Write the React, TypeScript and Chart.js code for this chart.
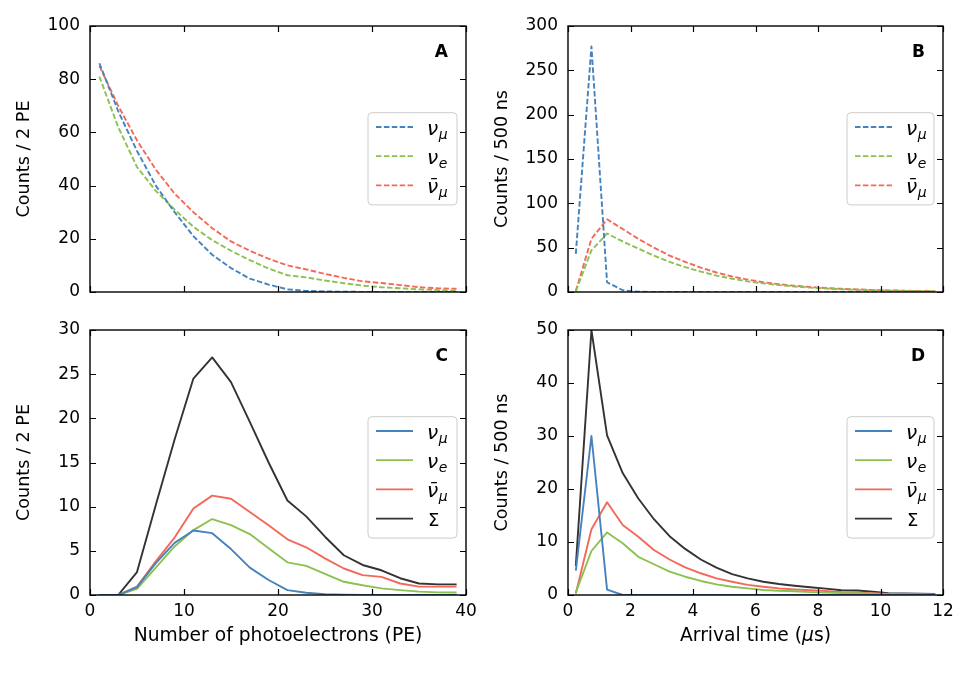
import { useEffect, useRef } from 'react';
import { Chart, registerables } from 'chart.js';

Chart.register(...registerables);

// ---- figure geometry & fonts ----
const W = 975;
const H = 675;
const FONT = '"DejaVu Sans", sans-serif';
const FS = 17;
const FS_YTITLE = 17.6;
const FS_XTITLE = 18.7;
const FS_NU = 20;
const FS_SUB = 14;
const Y_AXIS_W = 60;
const X_AXIS_H = 30;

// ---- bin centres ----
const peBins = [1, 3, 5, 7, 9, 11, 13, 15, 17, 19, 21, 23, 25, 27, 29, 31, 33, 35, 37, 39];
const timeBins = [
  0.25, 0.75, 1.25, 1.75, 2.25, 2.75, 3.25, 3.75, 4.25, 4.75, 5.25, 5.75,
  6.25, 6.75, 7.25, 7.75, 8.25, 8.75, 9.25, 9.75, 10.25, 10.75, 11.25, 11.75,
];

// ---- A: photoelectron spectra, all events ----
const allPeNuMu = [86, 68, 53, 40, 30, 21, 14, 9, 5, 2.8, 1.0, 0.4, 0.2, 0.1, 0.05, 0, 0, 0, 0, 0];
const allPeNuE = [81, 62, 47, 38, 31, 24.5, 19.5, 15.5, 12, 8.8, 6.3, 5.5, 4.3, 3.3, 2.4, 1.8, 1.4, 1.0, 0.7, 0.5];
const allPeNuMuBar = [85, 70, 57, 46, 37, 30, 24, 19, 15.5, 12.5, 10, 8.5, 6.8, 5.3, 4, 3.4, 2.6, 1.8, 1.4, 1.2];

// ---- B: arrival times, all events ----
const allTNuMu = [43, 277, 11, 2, 0.3, 0, 0, 0, 0, 0, 0, 0, 0, 0, 0, 0, 0, 0, 0, 0, 0, 0, 0, 0];
const allTNuE = [1, 47, 66, 57, 49, 41, 34, 28, 23, 18.5, 15, 12, 9.8, 7.8, 6.2, 4.9, 3.9, 3.1, 2.5, 2.0, 1.6, 1.3, 1.0, 0.8];
const allTNuMuBar = [1, 60, 82, 71, 60, 50, 41, 34, 27.5, 22, 17.5, 14, 11, 8.8, 7, 5.6, 4.5, 3.6, 2.9, 2.3, 1.8, 1.5, 1.2, 1.0];

// ---- C: photoelectron spectra, selected events ----
const cutPeNuMu = [0, 0, 0.9, 3.6, 5.9, 7.3, 7.0, 5.2, 3.1, 1.7, 0.55, 0.25, 0.1, 0.03, 0, 0, 0, 0, 0, 0];
const cutPeNuE = [0, 0, 0.7, 3.1, 5.5, 7.35, 8.6, 7.9, 6.9, 5.3, 3.7, 3.3, 2.4, 1.5, 1.1, 0.75, 0.55, 0.38, 0.3, 0.28];
const cutPeNuMuBar = [0, 0, 0.95, 3.8, 6.5, 9.8, 11.25, 10.9, 9.4, 7.9, 6.3, 5.4, 4.15, 3.0, 2.25, 2.05, 1.3, 0.95, 0.95, 0.95];
const cutPeSum = [0, 0, 2.6, 10.2, 17.6, 24.5, 26.9, 24.1, 19.6, 15.0, 10.7, 8.9, 6.6, 4.5, 3.4, 2.8, 1.9, 1.3, 1.2, 1.2];

// ---- D: arrival times, selected events ----
const cutTNuMu = [4.6, 30, 1.0, 0, 0, 0, 0, 0, 0, 0, 0, 0, 0, 0, 0, 0, 0, 0, 0, 0, 0, 0, 0, 0];
const cutTNuE = [0.5, 8.3, 11.8, 9.75, 7.2, 5.8, 4.4, 3.45, 2.65, 2.0, 1.55, 1.25, 0.95, 0.8, 0.7, 0.55, 0.45, 0.35, 0.35, 0.25, 0.15, 0.12, 0.1, 0.08];
const cutTNuMuBar = [0.3, 12.4, 17.5, 13.2, 11.0, 8.5, 6.7, 5.2, 4.1, 3.15, 2.5, 1.9, 1.55, 1.25, 1.05, 0.9, 0.75, 0.55, 0.5, 0.35, 0.2, 0.18, 0.15, 0.12];
const cutTSum = [5.5, 50, 30.1, 23, 18.2, 14.3, 11.1, 8.7, 6.7, 5.15, 3.95, 3.15, 2.5, 2.07, 1.75, 1.45, 1.2, 0.9, 0.85, 0.6, 0.35, 0.3, 0.25, 0.2];

// ---- colours ----
const C_NUMU = '#4683bd';
const C_NUE = '#8cc152';
const C_NUMUBAR = '#f4685a';
const C_SUM = '#333333';

type Kind = 'numu' | 'nue' | 'numubar' | 'sum';

interface Series {
  kind: Kind;
  values: number[];
  color: string;
}

interface PanelSpec {
  id: string;
  letter: string;
  bins: number[];
  series: Series[];
  dashed: boolean;
  xMax: number;
  xStep: number;
  yMax: number;
  yStep: number;
  area: { left: number; top: number; right: number; bottom: number };
  showX: boolean;
  yTitle: string;
  yTitleX: number;
  xTitle?: 'pe' | 'time';
  legendLeft: number;
}

const TOP_AREA = { top: 26, bottom: 292 };
const BOT_AREA = { top: 330, bottom: 595 };
const LEFT_COL = { left: 90, right: 466 };
const RIGHT_COL = { left: 568, right: 943 };

const panels: PanelSpec[] = [
  {
    id: 'A', letter: 'A', bins: peBins, dashed: true,
    series: [
      { kind: 'numu', values: allPeNuMu, color: C_NUMU },
      { kind: 'nue', values: allPeNuE, color: C_NUE },
      { kind: 'numubar', values: allPeNuMuBar, color: C_NUMUBAR },
    ],
    xMax: 40, xStep: 10, yMax: 100, yStep: 20,
    area: { ...LEFT_COL, ...TOP_AREA }, showX: false,
    yTitle: 'Counts / 2 PE', yTitleX: 24, legendLeft: 368,
  },
  {
    id: 'B', letter: 'B', bins: timeBins, dashed: true,
    series: [
      { kind: 'numu', values: allTNuMu, color: C_NUMU },
      { kind: 'nue', values: allTNuE, color: C_NUE },
      { kind: 'numubar', values: allTNuMuBar, color: C_NUMUBAR },
    ],
    xMax: 12, xStep: 2, yMax: 300, yStep: 50,
    area: { ...RIGHT_COL, ...TOP_AREA }, showX: false,
    yTitle: 'Counts / 500 ns', yTitleX: 502, legendLeft: 847,
  },
  {
    id: 'C', letter: 'C', bins: peBins, dashed: false,
    series: [
      { kind: 'numu', values: cutPeNuMu, color: C_NUMU },
      { kind: 'nue', values: cutPeNuE, color: C_NUE },
      { kind: 'numubar', values: cutPeNuMuBar, color: C_NUMUBAR },
      { kind: 'sum', values: cutPeSum, color: C_SUM },
    ],
    xMax: 40, xStep: 10, yMax: 30, yStep: 5,
    area: { ...LEFT_COL, ...BOT_AREA }, showX: true,
    yTitle: 'Counts / 2 PE', yTitleX: 24, xTitle: 'pe', legendLeft: 368,
  },
  {
    id: 'D', letter: 'D', bins: timeBins, dashed: false,
    series: [
      { kind: 'numu', values: cutTNuMu, color: C_NUMU },
      { kind: 'nue', values: cutTNuE, color: C_NUE },
      { kind: 'numubar', values: cutTNuMuBar, color: C_NUMUBAR },
      { kind: 'sum', values: cutTSum, color: C_SUM },
    ],
    xMax: 12, xStep: 2, yMax: 50, yStep: 10,
    area: { ...RIGHT_COL, ...BOT_AREA }, showX: true,
    yTitle: 'Counts / 500 ns', yTitleX: 502, xTitle: 'time', legendLeft: 847,
  },
];

// legend entry label: ν with a subscript, ν̄_μ, or Σ
function drawKindLabel(ctx: CanvasRenderingContext2D, kind: Kind, x: number, baseline: number) {
  ctx.fillStyle = '#000';
  ctx.textAlign = 'left';
  ctx.textBaseline = 'alphabetic';
  if (kind === 'sum') {
    ctx.font = `${FS + 1}px ${FONT}`;
    ctx.fillText('Σ', x + 1, baseline);
    return;
  }
  ctx.font = `italic ${FS_NU}px ${FONT}`;
  const nu = kind === 'numubar' ? 'ν\u0304' : 'ν';
  ctx.fillText(nu, x, baseline);
  const w = ctx.measureText('ν').width;
  ctx.font = `italic ${FS_SUB}px ${FONT}`;
  ctx.fillText(kind === 'nue' ? 'e' : 'μ', x + w + 0.5, baseline + 4);
}

function roundRect(ctx: CanvasRenderingContext2D, x: number, y: number, w: number, h: number, r: number) {
  ctx.beginPath();
  ctx.moveTo(x + r, y);
  ctx.lineTo(x + w - r, y);
  ctx.quadraticCurveTo(x + w, y, x + w, y + r);
  ctx.lineTo(x + w, y + h - r);
  ctx.quadraticCurveTo(x + w, y + h, x + w - r, y + h);
  ctx.lineTo(x + r, y + h);
  ctx.quadraticCurveTo(x, y + h, x, y + h - r);
  ctx.lineTo(x, y + r);
  ctx.quadraticCurveTo(x, y, x + r, y);
  ctx.closePath();
}

function makeDecorPlugin(spec: PanelSpec) {
  return {
    id: 'panelDecor' + spec.id,
    afterDraw(chart: Chart) {
      const ctx = chart.ctx;
      const { left, top, right, bottom } = chart.chartArea;
      const xs = chart.scales.x;
      const ys = chart.scales.y;
      ctx.save();

      // inward tick marks on all four sides
      const TL = 6;
      ctx.strokeStyle = '#000';
      ctx.lineWidth = 1.2;
      ctx.beginPath();
      xs.ticks.forEach((t) => {
        const px = Math.round(xs.getPixelForValue(t.value)) + 0.5;
        ctx.moveTo(px, bottom);
        ctx.lineTo(px, bottom - TL);
        ctx.moveTo(px, top);
        ctx.lineTo(px, top + TL);
      });
      ys.ticks.forEach((t) => {
        const py = Math.round(ys.getPixelForValue(t.value)) + 0.5;
        ctx.moveTo(left, py);
        ctx.lineTo(left + TL, py);
        ctx.moveTo(right, py);
        ctx.lineTo(right - TL, py);
      });
      ctx.stroke();

      // frame
      ctx.lineWidth = 1.4;
      ctx.strokeRect(left, top, right - left, bottom - top);

      // panel letter
      ctx.fillStyle = '#000';
      ctx.font = `bold ${FS}px ${FONT}`;
      ctx.textAlign = 'right';
      ctx.textBaseline = 'middle';
      ctx.fillText(spec.letter, right - 18, top + 27);

      // legend
      const n = spec.series.length;
      const rowH = 29.2;
      const boxTop = top + 86.7;
      const boxH = 14.3 + (n - 1) * rowH + 19.5;
      const boxL = spec.legendLeft;
      const boxW = right - 9 - boxL;
      roundRect(ctx, boxL, boxTop, boxW, boxH, 4);
      ctx.fillStyle = 'rgba(255,255,255,0.8)';
      ctx.fill();
      ctx.strokeStyle = '#cccccc';
      ctx.lineWidth = 1;
      ctx.stroke();
      spec.series.forEach((s, i) => {
        const ly = boxTop + 14.3 + i * rowH;
        ctx.beginPath();
        ctx.strokeStyle = s.color;
        ctx.lineWidth = 1.8;
        ctx.setLineDash(spec.dashed ? [5.5, 2.4] : []);
        ctx.moveTo(boxL + 8, ly);
        ctx.lineTo(boxL + 45, ly);
        ctx.stroke();
        ctx.setLineDash([]);
        drawKindLabel(ctx, s.kind, boxL + 59, ly + 7.5);
      });

      // y-axis title
      ctx.fillStyle = '#000';
      ctx.font = `${FS_YTITLE}px ${FONT}`;
      ctx.save();
      ctx.translate(spec.yTitleX, (top + bottom) / 2);
      ctx.rotate(-Math.PI / 2);
      ctx.textAlign = 'center';
      ctx.textBaseline = 'middle';
      ctx.fillText(spec.yTitle, 0, 0);
      ctx.restore();

      // x-axis title
      if (spec.xTitle) {
        const cx = (left + right) / 2;
        const ty = 636;
        ctx.textBaseline = 'middle';
        if (spec.xTitle === 'pe') {
          ctx.textAlign = 'center';
          ctx.font = `${FS_XTITLE}px ${FONT}`;
          ctx.fillText('Number of photoelectrons (PE)', cx, ty);
        } else {
          const parts: [string, boolean][] = [['Arrival time (', false], ['μ', true], ['s)', false]];
          const widths = parts.map(([txt, it]) => {
            ctx.font = `${it ? 'italic ' : ''}${FS_XTITLE}px ${FONT}`;
            return ctx.measureText(txt).width;
          });
          let x = cx - widths.reduce((a, b) => a + b, 0) / 2;
          ctx.textAlign = 'left';
          parts.forEach(([txt, it], i) => {
            ctx.font = `${it ? 'italic ' : ''}${FS_XTITLE}px ${FONT}`;
            ctx.fillText(txt, x, ty);
            x += widths[i];
          });
        }
      }
      ctx.restore();
    },
  };
}

function buildConfig(spec: PanelSpec): any {
  const { area } = spec;
  return {
    type: 'line',
    data: {
      datasets: spec.series.map((s) => ({
        label: s.kind,
        data: spec.bins.map((x, i) => ({ x, y: s.values[i] })),
        borderColor: s.color,
        backgroundColor: s.color,
        borderWidth: 1.9,
        borderDash: spec.dashed ? [5.5, 2.4] : [],
        borderJoinStyle: 'round',
        pointRadius: 0,
        tension: 0,
        fill: false,
      })),
    },
    options: {
      responsive: false,
      maintainAspectRatio: false,
      animation: false,
      events: [],
      layout: {
        padding: {
          left: area.left - Y_AXIS_W,
          top: area.top,
          right: W - area.right,
          bottom: H - area.bottom - (spec.showX ? X_AXIS_H : 0),
        },
      },
      plugins: {
        legend: { display: false },
        tooltip: { enabled: false },
      },
      scales: {
        x: {
          type: 'linear',
          min: 0,
          max: spec.xMax,
          ticks: {
            display: spec.showX,
            stepSize: spec.xStep,
            autoSkip: false,
            maxRotation: 0,
            padding: 6,
            color: '#000',
            font: { family: FONT, size: FS },
          },
          grid: { display: false, drawTicks: false },
          border: { display: false },
          afterFit: (s: any) => {
            s.height = spec.showX ? X_AXIS_H : 0;
          },
        },
        y: {
          type: 'linear',
          min: 0,
          max: spec.yMax,
          ticks: {
            stepSize: spec.yStep,
            autoSkip: false,
            padding: 10,
            color: '#000',
            font: { family: FONT, size: FS },
          },
          grid: { display: false, drawTicks: false },
          border: { display: false },
          afterFit: (s: any) => {
            s.width = Y_AXIS_W;
          },
        },
      },
    },
    plugins: [makeDecorPlugin(spec)],
  };
}

function Panel({ spec }: { spec: PanelSpec }) {
  const ref = useRef<HTMLCanvasElement>(null);
  useEffect(() => {
    if (!ref.current) return;
    const chart = new Chart(ref.current, buildConfig(spec));
    return () => chart.destroy();
  }, [spec]);
  return (
    <canvas
      ref={ref}
      width={W}
      height={H}
      style={{ position: 'absolute', left: 0, top: 0, width: W, height: H }}
    />
  );
}

export default function App() {
  return (
    <div
      style={{
        position: 'absolute',
        left: 0,
        top: 0,
        width: W,
        height: H,
        background: '#ffffff',
        overflow: 'hidden',
      }}
    >
      {panels.map((p) => (
        <Panel key={p.id} spec={p} />
      ))}
    </div>
  );
}
